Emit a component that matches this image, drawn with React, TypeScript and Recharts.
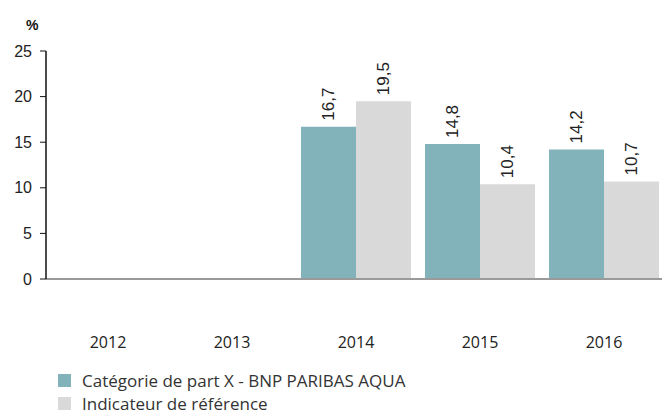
import { BarChart, Bar, XAxis, YAxis, Legend, LabelList } from 'recharts';

const years = ['2012', '2013', '2014', '2015', '2016'];
const fundValues = [null, null, 16.7, 14.8, 14.2];
const benchmarkValues = [null, null, 19.5, 10.4, 10.7];
const yTicks = [0, 5, 10, 15, 20, 25];

const FUND = 'Catégorie de part X - BNP PARIBAS AQUA';
const BENCH = 'Indicateur de référence';

const data = years.map((year, i) => ({
  year,
  fund: fundValues[i],
  bench: benchmarkValues[i],
}));

const fmt = (v: number) => v.toFixed(1).replace('.', ',');

const RotatedLabel = (props: any) => {
  const { x, y, width, value } = props;
  if (value == null) return null;
  const cx = x + width / 2;
  const cy = y - 6;
  return (
    <text
      x={cx}
      y={cy}
      transform={`rotate(-90 ${cx} ${cy})`}
      textAnchor="start"
      dominantBaseline="central"
      fontFamily="Liberation Sans"
      fontSize={17}
      fill="#222"
    >
      {fmt(value)}
    </text>
  );
};

const LegendContent = () => (
  <div style={{ fontFamily: 'Open Sans', fontSize: 17, color: '#333', lineHeight: '23px' }}>
    {[
      { name: FUND, color: '#82b3ba' },
      { name: BENCH, color: '#d9d9d9' },
    ].map((item) => (
      <div key={item.name} style={{ display: 'flex', alignItems: 'center' }}>
        <span style={{ width: 13, height: 13, background: item.color, marginRight: 11, display: 'inline-block' }} />
        {item.name}
      </div>
    ))}
  </div>
);

export default function App() {
  return (
    <div style={{ position: 'absolute', left: 0, top: 0, width: 662, height: 415, background: '#fff', overflow: 'hidden' }}>
      <div
        style={{
          position: 'absolute',
          left: 26,
          top: 17,
          fontFamily: 'Liberation Sans',
          fontWeight: 'bold',
          fontSize: 14,
          color: '#111',
        }}
      >
        %
      </div>
      <BarChart
        width={666}
        height={415}
        data={data}
        margin={{ top: 51, right: 0, left: 0, bottom: 0 }}
        barCategoryGap={7}
        barGap={0}
      >
        <XAxis
          dataKey="year"
          axisLine={{ stroke: '#9a9a9a', strokeWidth: 2 }}
          tickLine={false}
          height={90}
          tick={{ fill: '#222', fontSize: 16, fontFamily: 'Open Sans', dy: 50 }}
        />
        <YAxis
          domain={[0, 25]}
          ticks={yTicks}
          width={46}
          axisLine={{ stroke: '#111', strokeWidth: 1.5 }}
          tickLine={{ stroke: '#111' }}
          tickSize={6}
          tickMargin={8}
          tick={{ fill: '#222', fontSize: 16, fontFamily: 'Liberation Sans' }}
        />
        <Legend
          content={<LegendContent />}
          wrapperStyle={{ position: 'absolute', left: 58, top: 369, width: 500 }}
        />
        <Bar dataKey="fund" name={FUND} fill="#82b3ba" isAnimationActive={false}>
          <LabelList dataKey="fund" content={RotatedLabel} />
        </Bar>
        <Bar dataKey="bench" name={BENCH} fill="#d9d9d9" isAnimationActive={false}>
          <LabelList dataKey="bench" content={RotatedLabel} />
        </Bar>
      </BarChart>
    </div>
  );
}
